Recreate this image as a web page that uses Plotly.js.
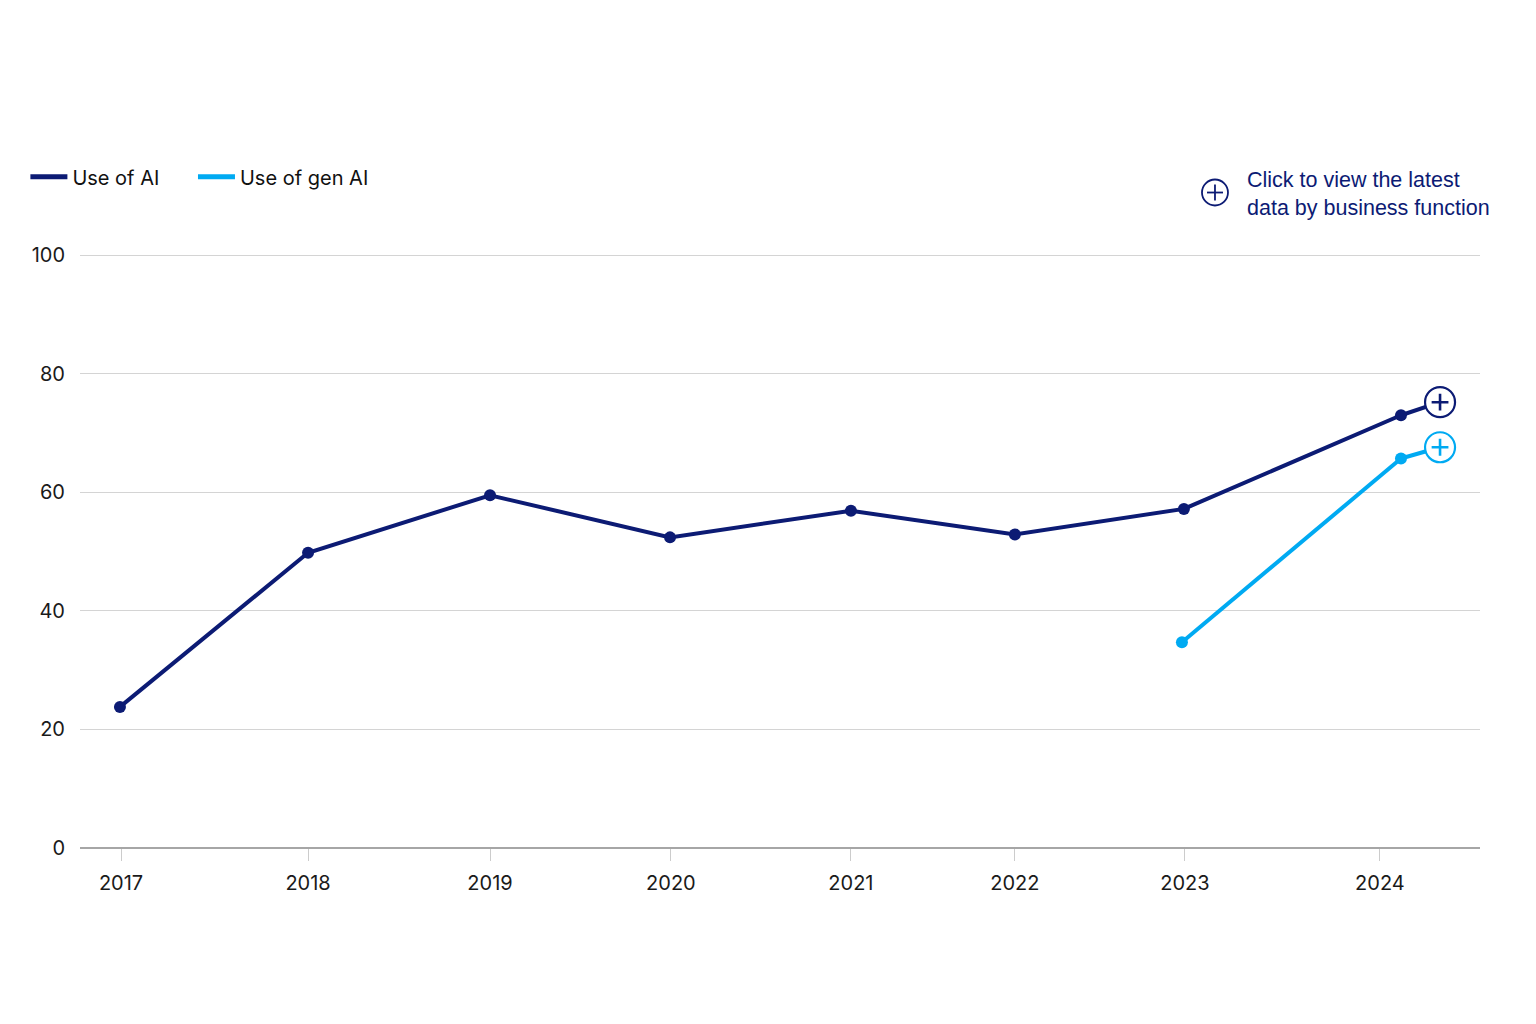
<!DOCTYPE html>
<html>
<head>
<meta charset="utf-8">
<script src="https://cdn.plot.ly/plotly-3.0.1.min.js"></script>
<style>html,body{margin:0;padding:0;background:#fff;}#chart{width:1536px;height:1024px;}</style>
</head>
<body>
<div id="chart"></div>
<script>
// Survey dates as decimal years (surveys were not evenly spaced)
const surveyDates = [2016.994, 2018.039, 2019.05, 2020.05, 2021.055, 2021.966, 2022.905, 2024.111];
const useOfAI = [23.8, 49.8, 59.5, 52.4, 56.9, 52.9, 57.2, 73.0];
const genDates = [2022.894, 2024.111];
const useOfGenAI = [34.7, 65.7];
// end-of-line "+" markers (continuation of each series)
const endDate = 2024.328;
const aiEndValue = 75.2;
const genEndValue = 67.6;
// x-axis tick positions and labels
const tickDates = [2017.0, 2018.039, 2019.05, 2020.055, 2021.055, 2021.966, 2022.911, 2023.994];
const tickLabels = ['2017', '2018', '2019', '2020', '2021', '2022', '2023', '2024'];
const yTicks = [0, 20, 40, 60, 80, 100];
const seriesNames = ['Use of AI', 'Use of gen AI'];

const NAVY = '#0c1b74';
const BLUE = '#00aaf2';

const traces = [
  {x: [surveyDates[surveyDates.length-1], endDate], y: [useOfAI[useOfAI.length-1], aiEndValue],
   mode: 'lines', line: {color: NAVY, width: 4}, showlegend: false, hoverinfo: 'skip'},
  {x: [genDates[genDates.length-1], endDate], y: [useOfGenAI[useOfGenAI.length-1], genEndValue],
   mode: 'lines', line: {color: BLUE, width: 4}, showlegend: false, hoverinfo: 'skip'},
  {x: surveyDates, y: useOfAI, name: seriesNames[0], mode: 'lines+markers', showlegend: false,
   line: {color: NAVY, width: 4}, marker: {color: NAVY, size: 12}},
  {x: genDates, y: useOfGenAI, name: seriesNames[1], mode: 'lines+markers', showlegend: false,
   line: {color: BLUE, width: 4}, marker: {color: BLUE, size: 12}},
  {x: [endDate, endDate], y: [aiEndValue, genEndValue], mode: 'markers', showlegend: false, hoverinfo: 'skip',
   marker: {symbol: 'circle', size: 30, color: '#ffffff', line: {color: [NAVY, BLUE], width: 2.2}}},
  {x: [endDate, endDate], y: [aiEndValue, genEndValue], mode: 'markers', showlegend: false, hoverinfo: 'skip',
   marker: {symbol: 'cross-thin-open', size: 12, color: [NAVY, BLUE], line: {width: 2.6}}},
  // legend entries (line swatches only)
  {x: [null], y: [null], name: seriesNames[0], mode: 'lines', line: {color: NAVY, width: 5},
   showlegend: true, legend: 'legend'},
  {x: [null], y: [null], name: seriesNames[1], mode: 'lines', line: {color: BLUE, width: 5},
   showlegend: true, legend: 'legend2'}
];

const legendStyle = {orientation: 'h', yanchor: 'middle', y: 1.13, xanchor: 'left',
  font: {size: 20, color: '#111'}, itemwidth: 37, itemclick: false, bgcolor: 'rgba(0,0,0,0)'};

const layout = {
  width: 1536, height: 1024,
  margin: {l: 80, r: 56, t: 254, b: 176},
  paper_bgcolor: '#ffffff', plot_bgcolor: '#ffffff',
  font: {family: 'Inter, "Noto Sans", sans-serif', size: 20, color: '#1a1a1a'},
  showlegend: true,
  legend: Object.assign({}, legendStyle, {x: -0.039}),
  legend2: Object.assign({}, legendStyle, {x: 0.0807}),
  xaxis: {range: [2016.772, 2024.55], tickvals: tickDates, ticktext: tickLabels,
          showgrid: false, zeroline: false, showline: false,
          ticks: 'outside', ticklen: 12, tickwidth: 1, tickcolor: '#cccccc', ticklabelstandoff: 5,
          tickfont: {size: 20, color: '#1a1a1a'}, fixedrange: true},
  yaxis: {range: [0, 100.2], tickvals: yTicks, showgrid: true, gridcolor: '#d4d4d4', gridwidth: 1,
          zeroline: true, zerolinecolor: '#a6a6a6', zerolinewidth: 1.5, showline: false,
          ticks: '', ticklabelstandoff: 14, tickfont: {size: 20, color: '#1a1a1a'}, fixedrange: true},
  shapes: [
    {type: 'circle', xref: 'paper', yref: 'paper', xsizemode: 'pixel', ysizemode: 'pixel',
     xanchor: 0.8107, yanchor: 1.1035, x0: -13, x1: 13, y0: -13, y1: 13,
     line: {color: NAVY, width: 1.8}, fillcolor: 'rgba(0,0,0,0)'},
    {type: 'line', xref: 'paper', yref: 'paper', xsizemode: 'pixel', ysizemode: 'pixel',
     xanchor: 0.8107, yanchor: 1.1035, x0: -8, x1: 8, y0: 0, y1: 0, line: {color: NAVY, width: 1.8}},
    {type: 'line', xref: 'paper', yref: 'paper', xsizemode: 'pixel', ysizemode: 'pixel',
     xanchor: 0.8107, yanchor: 1.1035, x0: 0, x1: 0, y0: -8, y1: 8, line: {color: NAVY, width: 1.8}}
  ],
  annotations: [
    {xref: 'paper', yref: 'paper', x: 0.832, y: 1.1005, xanchor: 'left', yanchor: 'middle',
     align: 'left', showarrow: false,
     text: 'Click to view the latest<br>data by business function',
     font: {family: '"Liberation Sans Narrow", "Arial Narrow", sans-serif', size: 21.5, color: NAVY}}
  ]
};

Plotly.newPlot('chart', traces, layout, {displayModeBar: false, staticPlot: true});
</script>
</body>
</html>
